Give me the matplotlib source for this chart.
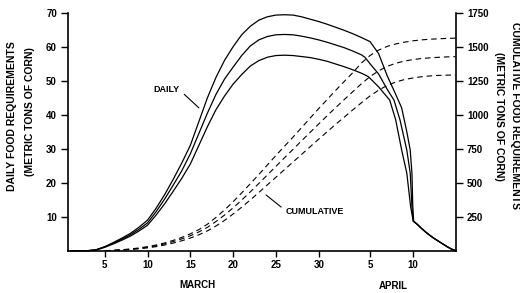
import matplotlib
matplotlib.use("Agg")
import matplotlib.pyplot as plt

plt.rcParams['font.family'] = ['Liberation Sans', 'DejaVu Sans']

# ---------------- data (day 1 = March 1, day 32 = April 1) ----------------
days_top = [1, 3, 4, 5, 6, 7, 8, 9, 10, 11, 12, 13, 14, 15, 16, 17, 18, 19, 20,
            21, 22, 23, 24, 25, 26, 27, 28, 29, 30, 31, 32, 33, 34, 35, 36,
            37, 38, 39, 39.7, 40.3, 40.7, 40.9, 41.0, 41.1,
            41.5, 42, 42.5, 43, 43.5, 44, 44.5, 45, 45.5, 46]
daily_top = [0, 0, 0.3, 1.2, 2.4, 3.7, 5.1, 6.9, 9.0, 12.5, 16.5, 21.0, 25.8, 31.0, 38.0, 45.0, 51.0, 56.0, 60.0,
             63.5, 66.0, 67.8, 68.8, 69.3, 69.4, 69.3, 68.8, 68.1, 67.4, 66.6, 65.7, 64.8, 63.8, 62.7, 61.5,
             58.0, 51.5, 46.0, 42.0, 35.0, 29.6, 22.8, 13.0, 8.7,
             7.8, 6.6, 5.5, 4.5, 3.6, 2.8, 2.0, 1.2, 0.5, 0]

days_mid = [1, 3, 4, 5, 6, 7, 8, 9, 10, 11, 12, 13, 14, 15, 16, 17, 18, 19, 20,
            21, 22, 23, 24, 25, 26, 27, 28, 29, 30, 31, 32, 33, 34, 35, 35.4,
            36, 37, 38, 38.8, 39.5, 40.3, 40.7, 40.9, 41.05,
            41.5, 42, 42.5, 43, 43.5, 44, 44.5, 45, 45.5, 46]
daily_mid = [0, 0, 0.25, 1.1, 2.2, 3.4, 4.7, 6.3, 8.2, 11.5, 15.2, 19.3, 23.5, 28.5, 34.5, 40.5, 46.0, 50.5, 54.0,
             57.4, 60.2, 62.0, 63.0, 63.5, 63.6, 63.5, 63.1, 62.6, 62.0, 61.3, 60.5, 59.7, 58.7, 57.6, 56.9,
             55.0, 52.0, 47.5, 44.3, 38.5, 29.6, 22.8, 12.9, 8.7,
             7.8, 6.6, 5.5, 4.5, 3.6, 2.8, 2.0, 1.2, 0.5, 0]

days_low = [1, 3, 4, 5, 6, 7, 8, 9, 10, 11, 12, 13, 14, 15, 16, 17, 18, 19, 20,
            21, 22, 23, 24, 25, 26, 27, 28, 29, 30, 31, 32, 33, 34, 35, 35.8,
            37, 38.3, 39, 39.7, 40.3, 40.75, 41.05,
            41.5, 42, 42.5, 43, 43.5, 44, 44.5, 45, 45.5, 46]
daily_low = [0, 0, 0.2, 1.0, 2.0, 3.1, 4.3, 5.8, 7.5, 10.5, 13.8, 17.5, 21.3, 25.5, 31.0, 36.5, 41.5, 45.5, 49.0,
             51.8, 54.3, 55.9, 56.9, 57.4, 57.5, 57.4, 57.1, 56.8, 56.3, 55.7, 54.9, 54.1, 53.2, 52.2, 51.2,
             48.2, 44.3, 38.5, 29.6, 22.8, 12.9, 8.7,
             7.8, 6.6, 5.5, 4.5, 3.6, 2.8, 2.0, 1.2, 0.5, 0]

days_cum = [5, 6, 7, 8, 9, 10, 11, 12, 13, 14, 15, 16, 17, 18, 19, 20, 21, 22, 23, 24, 25,
            26, 27, 28, 29, 30, 31, 32, 33, 34, 35, 36, 37, 38, 39, 40, 41, 42, 43, 44, 45, 46]
cum_top = [0, 3, 7, 13, 20, 30, 42, 57, 76, 98, 124, 155, 195, 245, 300, 360, 425, 492, 560, 630, 700,
           768, 835, 905, 975, 1045, 1112, 1180, 1245, 1310, 1380, 1435, 1475, 1502, 1520, 1533, 1543,
           1550, 1555, 1558, 1561, 1563]
cum_mid = [0, 2, 6, 11, 17, 25, 36, 50, 67, 87, 110, 138, 172, 215, 262, 315, 372, 432, 494, 557, 620,
           683, 745, 808, 870, 932, 993, 1053, 1112, 1170, 1228, 1280, 1322, 1355, 1378, 1394, 1405,
           1413, 1418, 1422, 1425, 1427]
cum_low = [0, 2, 5, 9, 14, 21, 30, 42, 56, 73, 93, 117, 146, 182, 223, 270, 320, 373, 428, 484, 540,
           596, 652, 708, 764, 820, 875, 930, 983, 1036, 1088, 1138, 1180, 1215, 1240, 1258, 1270,
           1279, 1285, 1289, 1291, 1292]

x_tick_days = [5, 10, 15, 20, 25, 30, 36, 41]
x_tick_labels = ['5', '10', '15', '20', '25', '30', '5', '10']
left_ticks = [10, 20, 30, 40, 50, 60, 70]
right_ticks = [250, 500, 750, 1000, 1250, 1500, 1750]

# ---------------- figure ----------------
W, H = 520, 293
fig = plt.figure(figsize=(W / 100, H / 100), dpi=100)
x0, x1, ytop, ybot = 68, 456, 12.7, 250.7
ax = fig.add_axes([x0 / W, 1 - ybot / H, (x1 - x0) / W, (ybot - ytop) / H])
ax.set_xlim(0.7, 46.05)
ax.set_ylim(0, 70)

lw = 0.9
for d, v in [(days_top, daily_top), (days_mid, daily_mid), (days_low, daily_low)]:
    ax.plot(d, v, color='black', lw=lw, solid_joinstyle='round', clip_on=False)

ax2 = ax.twinx()
ax2.set_ylim(0, 1750)
for c in [cum_top, cum_mid, cum_low]:
    ax2.plot(days_cum, c, color='black', lw=0.8, linestyle=(0, (5, 3.5)))

# spines
for s in ['top', 'right']:
    ax.spines[s].set_visible(False)
for s in ['top', 'left', 'bottom']:
    ax2.spines[s].set_visible(False)
for sp in [ax.spines['left'], ax.spines['bottom'], ax2.spines['right']]:
    sp.set_linewidth(1.2)

tick_font = dict(fontsize=7, fontweight='bold')
ax.set_xticks(x_tick_days)
ax.set_xticklabels(x_tick_labels, **tick_font)
ax.set_yticks(left_ticks)
ax.set_yticklabels([str(t) for t in left_ticks], **tick_font)
ax2.set_yticks(right_ticks)
ax2.set_yticklabels([str(t) for t in right_ticks], **tick_font)
ax.tick_params(axis='x', direction='out', length=4, width=1, pad=3)
ax.tick_params(axis='y', direction='out', length=5, width=1, pad=3)
ax2.tick_params(axis='y', direction='out', length=5, width=1, pad=3)

lab = dict(fontsize=7, fontweight='bold', ha='center', va='center')
ax.text(15.8, -0.144, 'MARCH', transform=ax.get_xaxis_transform(), **lab)
ax.text(38.7, -0.148, 'APRIL', transform=ax.get_xaxis_transform(), **lab)

# axis titles
yl = dict(fontsize=7.5, fontweight='bold', ha='center', va='center')
fig.text(12 / W, 1 - 116 / H, 'DAILY FOOD REQUIREMENTS', rotation=90, **yl)
fig.text(30 / W, 1 - 112 / H, '(METRIC TONS OF CORN)', rotation=90, **yl)
fig.text(515 / W, 1 - 115 / H, 'CUMULATIVE FOOD REQUIREMENTS', rotation=270, **yl)
fig.text(499 / W, 1 - 116 / H, '(METRIC TONS OF CORN)', rotation=270, **yl)

# curve annotations
ann = dict(fontsize=6.5, fontweight='bold', ha='center', va='center')
ax.annotate('DAILY', xy=(16.0, 42.0), xytext=(12.2, 47.3),
            arrowprops=dict(arrowstyle='-', lw=0.8, color='black', relpos=(1.0, 0.5),
                            shrinkA=2, shrinkB=0), **ann)
ax.annotate('CUMULATIVE', xy=(23.85, 16.4), xytext=(29.6, 11.4),
            arrowprops=dict(arrowstyle='-', lw=0.8, color='black', relpos=(0.0, 0.6),
                            shrinkA=2, shrinkB=0), **ann)

fig.savefig('out.png', dpi=100)
